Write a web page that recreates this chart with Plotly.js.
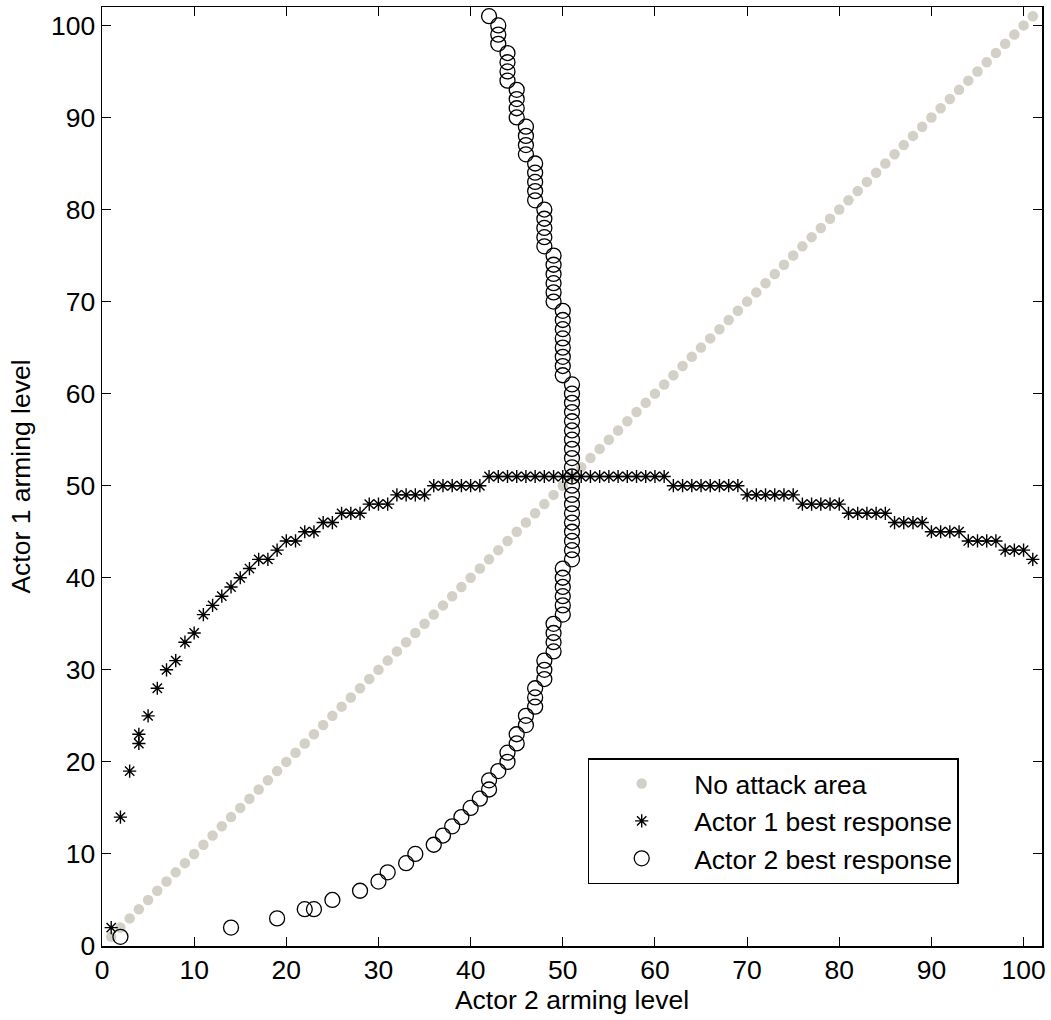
<!DOCTYPE html>
<html>
<head>
<meta charset="utf-8">
<script src="https://cdn.plot.ly/plotly-3.0.1.min.js"></script>
<style>
html, body { margin: 0; padding: 0; background: #ffffff; }
#chart { width: 1051px; height: 1020px; }
</style>
</head>
<body>
<div id="chart"></div>
<script>
// No attack area (diagonal)
const noAttackX = [1,2,3,4,5,6,7,8,9,10,11,12,13,14,15,16,17,18,19,20,21,22,23,24,25,26,27,28,29,30,31,32,33,34,35,36,37,38,39,40,41,42,43,44,45,46,47,48,49,50,51,52,53,54,55,56,57,58,59,60,61,62,63,64,65,66,67,68,69,70,71,72,73,74,75,76,77,78,79,80,81,82,83,84,85,86,87,88,89,90,91,92,93,94,95,96,97,98,99,100,101];
const noAttackY = [1,2,3,4,5,6,7,8,9,10,11,12,13,14,15,16,17,18,19,20,21,22,23,24,25,26,27,28,29,30,31,32,33,34,35,36,37,38,39,40,41,42,43,44,45,46,47,48,49,50,51,52,53,54,55,56,57,58,59,60,61,62,63,64,65,66,67,68,69,70,71,72,73,74,75,76,77,78,79,80,81,82,83,84,85,86,87,88,89,90,91,92,93,94,95,96,97,98,99,100,101];

// Actor 1 best response (asterisks)
const actor1X = [1,2,3,4,4,5,6,7,8,9,10,11,12,13,14,15,16,17,18,19,20,21,22,23,24,25,26,27,28,29,30,31,32,33,34,35,36,37,38,39,40,41,42,43,44,45,46,47,48,49,50,51,52,53,54,55,56,57,58,59,60,61,62,63,64,65,66,67,68,69,70,71,72,73,74,75,76,77,78,79,80,81,82,83,84,85,86,87,88,89,90,91,92,93,94,95,96,97,98,99,100,101];
const actor1Y = [2,14,19,22,23,25,28,30,31,33,34,36,37,38,39,40,41,42,42,43,44,44,45,45,46,46,47,47,47,48,48,48,49,49,49,49,50,50,50,50,50,50,51,51,51,51,51,51,51,51,51,51,51,51,51,51,51,51,51,51,51,51,50,50,50,50,50,50,50,50,49,49,49,49,49,49,48,48,48,48,48,47,47,47,47,47,46,46,46,46,45,45,45,45,44,44,44,44,43,43,43,42];

// Actor 2 best response (circles)
const actor2X = [2,14,19,22,23,25,28,30,31,33,34,36,37,38,39,40,41,42,42,43,44,44,45,45,46,46,47,47,47,48,48,48,49,49,49,49,50,50,50,50,50,50,51,51,51,51,51,51,51,51,51,51,51,51,51,51,51,51,51,51,51,51,50,50,50,50,50,50,50,50,49,49,49,49,49,49,48,48,48,48,48,47,47,47,47,47,46,46,46,46,45,45,45,45,44,44,44,44,43,43,43,42];
const actor2Y = [1,2,3,4,4,5,6,7,8,9,10,11,12,13,14,15,16,17,18,19,20,21,22,23,24,25,26,27,28,29,30,31,32,33,34,35,36,37,38,39,40,41,42,43,44,45,46,47,48,49,50,51,52,53,54,55,56,57,58,59,60,61,62,63,64,65,66,67,68,69,70,71,72,73,74,75,76,77,78,79,80,81,82,83,84,85,86,87,88,89,90,91,92,93,94,95,96,97,98,99,100,101];

const seriesNames = ['No attack area', 'Actor 1 best response', 'Actor 2 best response'];
const axisTitles = { x: 'Actor 2 arming level', y: 'Actor 1 arming level' };

const FONT = 'Liberation Sans, Arial, Helvetica, sans-serif';
const FS = 26.5;

const traces = [
  {
    x: noAttackX, y: noAttackY, type: 'scatter', mode: 'markers', name: seriesNames[0],
    marker: { symbol: 'circle', size: 10.5, color: 'rgb(211,208,200)', line: { width: 0 } },
    legendgroup: 'a'
  },
  {
    x: actor1X, y: actor1Y, type: 'scatter', mode: 'markers', name: seriesNames[1],
    marker: { symbol: 'asterisk-open', size: 11, color: '#000000', line: { width: 1.4, color: '#000000' } },
    legendgroup: 'b'
  },
  {
    x: actor2X, y: actor2Y, type: 'scatter', mode: 'markers', name: seriesNames[2],
    marker: { symbol: 'circle-open', size: 15, color: '#000000', line: { width: 1.3, color: '#000000' } },
    legendgroup: 'c'
  }
];

const axisCommon = {
  range: [0, 102],
  tick0: 0, dtick: 10,
  ticks: 'inside', ticklen: 9, tickwidth: 1, tickcolor: '#000000',
  showline: true, linewidth: 1.5, linecolor: '#000000', mirror: 'ticks',
  showgrid: false, zeroline: false,
  tickfont: { family: FONT, size: FS, color: '#000000' },
  automargin: false
};

const layout = {
  width: 1051, height: 1020,
  margin: { l: 102, r: 9, t: 7, b: 74 },
  paper_bgcolor: '#ffffff', plot_bgcolor: '#ffffff',
  font: { family: FONT, size: FS, color: '#000000' },
  showlegend: true,
  xaxis: Object.assign({}, axisCommon, {
    title: { text: axisTitles.x, font: { family: FONT, size: FS, color: '#000000' }, standoff: 3 }
  }),
  yaxis: Object.assign({}, axisCommon, {
    title: { text: axisTitles.y, font: { family: FONT, size: FS, color: '#000000' }, standoff: 12 }
  }),
  legend: {
    x: 0.5167, y: 0.2, xanchor: 'left', yanchor: 'top',
    bgcolor: '#ffffff', bordercolor: '#000000', borderwidth: 1.5,
    font: { family: FONT, size: FS, color: '#000000' },
    itemwidth: 95, tracegroupgap: 2,
    traceorder: 'normal'
  }
};

Plotly.newPlot('chart', traces, layout, { displayModeBar: false, staticPlot: true });
</script>
</body>
</html>
